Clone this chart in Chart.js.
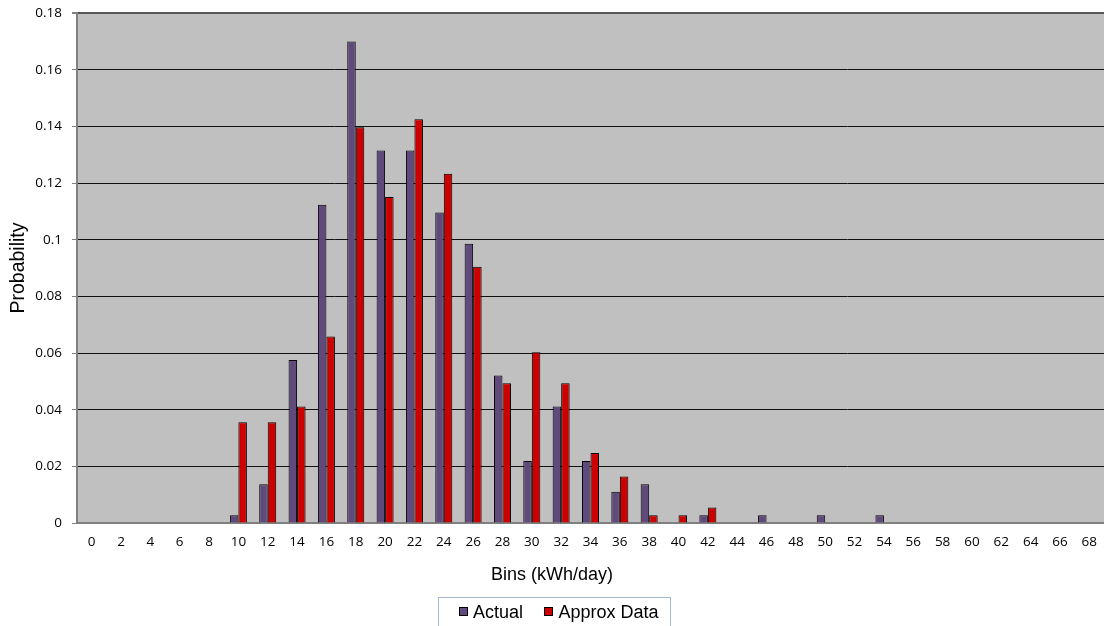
<!DOCTYPE html>
<html>
<head>
<meta charset="utf-8">
<title>Probability by bin</title>
<script src="https://cdn.jsdelivr.net/npm/chart.js@4.4.1/dist/chart.umd.min.js"></script>
<style>
  html, body { margin: 0; padding: 0; background: #ffffff; }
  #wrap { width: 1104px; height: 626px; position: relative; }
</style>
</head>
<body>
<div id="wrap"><canvas id="chart" width="1104" height="626"></canvas></div>
<script>
// Bins of daily energy use (kWh/day)
const bins = [0, 2, 4, 6, 8, 10, 12, 14, 16, 18, 20, 22, 24, 26, 28, 30, 32, 34,
              36, 38, 40, 42, 44, 46, 48, 50, 52, 54, 56, 58, 60, 62, 64, 66, 68];

// Observed probability per bin
const actual = [0, 0, 0, 0, 0, 0.0027, 0.0137, 0.0575, 0.1123, 0.1699, 0.1315, 0.1315,
                0.1096, 0.0986, 0.0521, 0.0219, 0.0411, 0.0219, 0.0110, 0.0137, 0,
                0.0027, 0, 0.0027, 0, 0.0027, 0, 0.0027, 0, 0, 0, 0, 0, 0, 0];

// Approximated probability per bin
const approx = [0, 0, 0, 0, 0, 0.0356, 0.0356, 0.0411, 0.0658, 0.1397, 0.1151, 0.1425,
                0.1233, 0.0904, 0.0493, 0.0603, 0.0493, 0.0247, 0.0164, 0.0027, 0.0027,
                0.0055, 0, 0, 0, 0, 0, 0, 0, 0, 0, 0, 0, 0, 0];

const yTicks = [0, 0.02, 0.04, 0.06, 0.08, 0.1, 0.12, 0.14, 0.16, 0.18];

const seriesNames = ['Actual', 'Approx Data'];
const seriesColors = ['#604A7B', '#CC0000'];

const TICK_FONT = "'Open Sans', sans-serif";
const TEXT_FONT = "'Liberation Sans', Arial, sans-serif";

// Grey plot background
const plotBackground = {
  id: 'plotBackground',
  beforeDraw(chart) {
    const { ctx, chartArea: a } = chart;
    ctx.save();
    ctx.fillStyle = '#C0C0C0';
    ctx.fillRect(a.left, a.top, a.right - a.left, a.bottom - a.top);
    ctx.restore();
  }
};

// Boxed legend centred under the axis title
const boxedLegend = {
  id: 'boxedLegend',
  afterDraw(chart) {
    const { ctx } = chart;
    ctx.save();
    ctx.font = '18px ' + TEXT_FONT;
    const sq = 9, gapSq = 5.5, gapItem = 21, padL = 20, padR = 12;
    const items = chart.data.datasets.map(ds => ({
      label: ds.label, color: ds.backgroundColor, w: ctx.measureText(ds.label).width
    }));
    let inner = 0;
    items.forEach((it, i) => { inner += sq + gapSq + it.w + (i ? gapItem : 0); });
    const boxW = Math.round(inner + padL + padR);
    const boxL = Math.round(chart.width / 2 - boxW / 2 + 2) + 0.5;
    const boxT = 597.5;
    ctx.fillStyle = '#ffffff';
    ctx.fillRect(boxL, boxT, boxW, 40);
    ctx.strokeStyle = '#A7B7CC';
    ctx.lineWidth = 1;
    ctx.strokeRect(boxL, boxT, boxW, 40);
    let x = boxL + padL;
    const cy = 612;
    items.forEach((it, i) => {
      if (i) x += gapItem;
      ctx.fillStyle = it.color;
      ctx.fillRect(Math.round(x), cy - 5, sq, sq);
      ctx.strokeStyle = '#000000';
      ctx.strokeRect(Math.round(x) + 0.5, cy - 4.5, sq - 1, sq - 1);
      x += sq + gapSq;
      ctx.fillStyle = '#000000';
      ctx.textBaseline = 'middle';
      ctx.textAlign = 'left';
      ctx.fillText(it.label, x, cy + 1);
      x += it.w;
    });
    ctx.restore();
  }
};

new Chart(document.getElementById('chart'), {
  type: 'bar',
  data: {
    labels: bins,
    datasets: [
      { label: seriesNames[0], data: actual, backgroundColor: seriesColors[0],
        borderColor: '#000000', borderWidth: 1, borderSkipped: 'start' },
      { label: seriesNames[1], data: approx, backgroundColor: seriesColors[1],
        borderColor: '#000000', borderWidth: 1, borderSkipped: 'start' }
    ]
  },
  options: {
    responsive: false,
    animation: false,
    devicePixelRatio: 1,
    layout: { padding: { left: 0, right: 0, top: 13, bottom: 36 } },
    datasets: { bar: { categoryPercentage: 0.58, barPercentage: 1.0 } },
    plugins: {
      legend: { display: false },
      tooltip: { enabled: false },
      title: {
        display: true, position: 'bottom', text: 'Bins (kWh/day)', color: '#000000',
        font: { family: TEXT_FONT, size: 18, weight: 'normal', lineHeight: 1.2 },
        padding: { top: 0, bottom: 4 }
      }
    },
    scales: {
      x: {
        grid: { display: false, drawTicks: false },
        border: { display: true, color: '#808080', width: 2 },
        ticks: {
          color: '#000000', maxRotation: 0, autoSkip: false, padding: 11,
          font: { family: TICK_FONT, size: 13.5 }
        },
        afterFit(scale) {
          scale.height = 41.4;
          scale.paddingLeft = 0;
          scale.paddingRight = 0;
        }
      },
      y: {
        min: 0, max: 0.18,
        afterBuildTicks(scale) { scale.ticks = yTicks.map(v => ({ value: v })); },
        grid: {
          color: ctx => (ctx.tick && ctx.tick.value === 0) ? 'rgba(0,0,0,0)'
                  : (ctx.tick && ctx.tick.value === 0.18 ? '#555555' : '#111111'),
          lineWidth: ctx => (ctx.tick && ctx.tick.value === 0.18) ? 2 : 1,
          tickColor: '#808080', tickLength: 5, drawTicks: true
        },
        border: { display: true, color: '#808080', width: 2 },
        ticks: {
          color: '#000000', padding: 10,
          font: { family: TICK_FONT, size: 13.5 },
          callback: v => String(parseFloat(Number(v).toFixed(2)))
        },
        title: {
          display: true, text: 'Probability', color: '#000000',
          font: { family: TEXT_FONT, size: 19.5, lineHeight: 1.2 },
          padding: { top: 6.5, bottom: 0 }
        },
        afterFit(scale) {
          scale.width = 77;
          scale.paddingTop = 0;
          scale.paddingBottom = 0;
        }
      }
    }
  },
  plugins: [plotBackground, boxedLegend]
});
</script>
</body>
</html>
